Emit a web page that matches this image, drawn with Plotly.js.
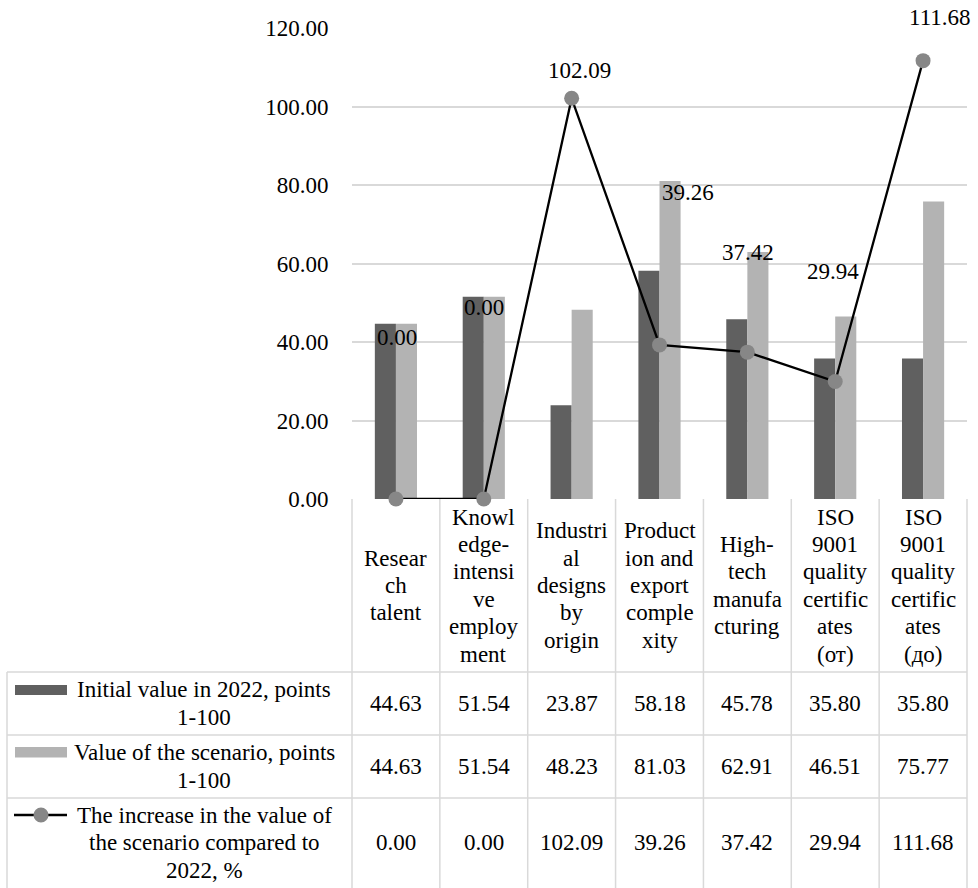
<!DOCTYPE html>
<html lang="en">
<head>
<meta charset="utf-8">
<script src="https://cdn.plot.ly/plotly-3.0.1.min.js"></script>
</head>
<body style="margin:0;padding:0;background:#fff">
<div id="chart"></div>
<script>
// Category labels, with the line breaks used in the table header
const categories = [
  "Resear\nch\ntalent",
  "Knowl\nedge-\nintensi\nve\nemploy\nment",
  "Industri\nal\ndesigns\nby\norigin",
  "Product\nion and\nexport\ncomple\nxity",
  "High-\ntech\nmanufa\ncturing",
  "ISO\n9001\nquality\ncertific\nates\n(от)",
  "ISO\n9001\nquality\ncertific\nates\n(до)"
];

// Series values
const initial2022 = [44.63, 51.54, 23.87, 58.18, 45.78, 35.80, 35.80];
const scenarioValue = [44.63, 51.54, 48.23, 81.03, 62.91, 46.51, 75.77];
const increasePct = [0.00, 0.00, 102.09, 39.26, 37.42, 29.94, 111.68];

// Series names as shown in the data table (line-broken)
const nameInitial = ["Initial value in 2022, points", "1-100"];
const nameScenario = ["Value of the scenario, points", "1-100"];
const nameIncrease = ["The increase in the value of", "the scenario compared to", "2022, %"];

// Y axis ticks
const yTickValues = [0, 20, 40, 60, 80, 100, 120];

// ---- styling / layout constants ----
const SERIF = 'Liberation Serif';
const FS = 23;
const DARK = '#606060';
const LIGHT = '#b3b3b3';
const MARKER = '#878787';
const GRID = '#d9d9d9';

const W = 978, H = 888;
const M = { l: 352, r: 11, t: 28, b: 389 };
const plotW = W - M.l - M.r;
const plotH = H - M.t - M.b;
const pxX = px => (px - M.l) / plotW;          // pixel -> paper x
const pxY = py => (H - M.b - py) / plotH;       // pixel -> paper y

// table geometry (pixels)
const tableLeft = 7;
const headerBottom = 672;
const rowBottoms = [735, 798];
const tableBottom = 888;
const headerMid = 585.5;
const lineStep = 27.4;
const legendTextX = 204;

const traces = [
  { type: 'bar', x: categories, y: initial2022, marker: { color: DARK }, name: nameInitial.join(' ') },
  { type: 'bar', x: categories, y: scenarioValue, marker: { color: LIGHT }, name: nameScenario.join(' ') },
  {
    type: 'scatter', mode: 'lines+markers', x: categories, y: increasePct,
    line: { color: '#000', width: 2.3 },
    marker: { color: MARKER, size: 15, line: { width: 0 } },
    cliponaxis: false, name: nameIncrease.join(' ')
  }
];

const annotations = [];
const shapes = [];

function textAnno(text, xref, x, yPx) {
  annotations.push({
    text: text, xref: xref, x: x, yref: 'paper', y: pxY(yPx),
    xanchor: 'center', yanchor: 'middle', showarrow: false,
    font: { family: SERIF, size: FS, color: '#000' }
  });
}

function multiLine(lines, xref, x, centerPx) {
  const n = lines.length;
  lines.forEach((ln, k) => textAnno(ln, xref, x, centerPx + (k - (n - 1) / 2) * lineStep));
}

// header: category names
categories.forEach(c => multiLine(c.split('\n'), 'x', c, headerMid));

// table body rows
const rows = [
  { vals: initial2022, name: nameInitial, mid: (headerBottom + rowBottoms[0]) / 2 },
  { vals: scenarioValue, name: nameScenario, mid: (rowBottoms[0] + rowBottoms[1]) / 2 },
  { vals: increasePct, name: nameIncrease, mid: 843 }
];
rows.forEach(r => {
  r.vals.forEach((v, i) => textAnno(v.toFixed(2), 'x', categories[i], r.mid));
  multiLine(r.name, 'paper', pxX(legendTextX), r.mid);
});

// data labels on the percentage line (offsets in px)
const labelShift = [[1, 162], [0, 192], [8, 28], [28, 152], [1, 100], [-2, 110], [17, 43]];
increasePct.forEach((v, i) => {
  annotations.push({
    text: v.toFixed(2), xref: 'x', x: categories[i], yref: 'y', y: v,
    xshift: labelShift[i][0], yshift: labelShift[i][1],
    xanchor: 'center', yanchor: 'middle', showarrow: false,
    font: { family: SERIF, size: FS, color: '#000' }
  });
});

// table grid lines
const gl = { color: GRID, width: 1.5 };
[headerBottom, ...rowBottoms].forEach(py => {
  shapes.push({ type: 'line', xref: 'paper', yref: 'paper',
    x0: pxX(tableLeft), x1: 1, y0: pxY(py), y1: pxY(py), line: gl });
});
shapes.push({ type: 'line', xref: 'paper', yref: 'paper',
  x0: pxX(tableLeft), x1: pxX(tableLeft), y0: pxY(headerBottom), y1: pxY(tableBottom), line: gl });
[0, 1].forEach(d => shapes.push({ type: 'line', xref: 'x domain', yref: 'paper',
  x0: d, x1: d, y0: 0, y1: pxY(tableBottom), line: gl }));
for (let i = 0; i < categories.length - 1; i++) {
  shapes.push({ type: 'line', xref: 'x', yref: 'paper',
    x0: i + 0.5, x1: i + 0.5, y0: 0, y1: pxY(tableBottom), line: gl });
}

// legend keys inside the table
shapes.push({ type: 'rect', xref: 'paper', yref: 'paper',
  x0: pxX(15), x1: pxX(67), y0: pxY(685), y1: pxY(695), fillcolor: DARK, line: { width: 0 } });
shapes.push({ type: 'rect', xref: 'paper', yref: 'paper',
  x0: pxX(15), x1: pxX(67), y0: pxY(747), y1: pxY(757.5), fillcolor: LIGHT, line: { width: 0 } });
shapes.push({ type: 'line', xref: 'paper', yref: 'paper',
  x0: pxX(14), x1: pxX(67), y0: pxY(815), y1: pxY(815), line: { color: '#000', width: 2.3 } });
shapes.push({ type: 'circle', xref: 'paper', yref: 'paper',
  x0: pxX(33.5), x1: pxX(48.5), y0: pxY(807.5), y1: pxY(822.5), fillcolor: MARKER, line: { width: 0 } });

const layout = {
  width: W, height: H,
  margin: M,
  paper_bgcolor: '#fff', plot_bgcolor: '#fff',
  showlegend: false,
  barmode: 'group', bargap: 0.52, bargroupgap: 0,
  font: { family: SERIF, size: FS, color: '#000' },
  xaxis: {
    type: 'category', range: [-0.5, categories.length - 0.5],
    showticklabels: false, showgrid: false, zeroline: false, showline: false, ticks: ''
  },
  yaxis: {
    range: [0, 120], tickvals: yTickValues, tickformat: '.2f',
    showgrid: true, gridcolor: GRID, gridwidth: 1.5,
    zeroline: false, showline: false,
    ticks: 'outside', ticklen: 18, tickcolor: 'rgba(0,0,0,0)',
    tickfont: { family: SERIF, size: FS, color: '#000' }
  },
  annotations: annotations,
  shapes: shapes
};

Plotly.newPlot('chart', traces, layout, { displayModeBar: false });
</script>
</body>
</html>
